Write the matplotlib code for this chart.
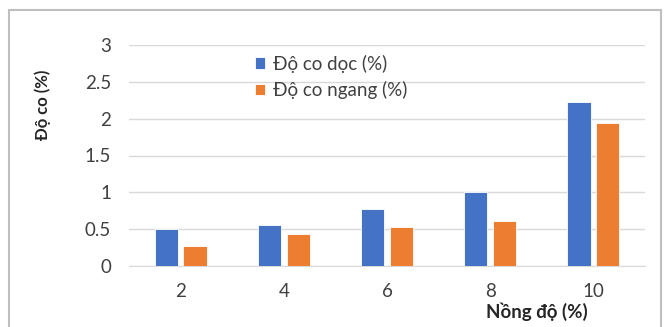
import matplotlib
matplotlib.use("Agg")
import matplotlib.pyplot as plt
import numpy as np
from matplotlib.patches import Rectangle

plt.rcParams['font.family'] = ['Lato', 'DejaVu Sans']

# shrinkage data by concentration
nong_do = ['2', '4', '6', '8', '10']
co_doc = [0.50, 0.56, 0.77, 1.00, 2.22]
co_ngang = [0.27, 0.44, 0.53, 0.61, 1.94]
y_ticks = [0, 0.5, 1, 1.5, 2, 2.5, 3]
y_tick_labels = ['0', '0.5', '1', '1.5', '2', '2.5', '3']

W, H = 664, 327
fig = plt.figure(figsize=(W / 100, H / 100), dpi=100)
ax = fig.add_axes([129 / W, 1 - 266 / H, 516 / W, 221 / H])

x = np.arange(len(nong_do))
bw = 0.225
ax.bar(x - 0.14, co_doc, bw, color='#4472C4', edgecolor='white', linewidth=0.6,
       label='Độ co dọc (%)', zorder=3)
ax.bar(x + 0.14, co_ngang, bw, color='#ED7D31', edgecolor='white', linewidth=0.6,
       label='Độ co ngang (%)', zorder=3)

ax.set_xlim(-0.5, len(nong_do) - 0.5)
ax.set_ylim(0, 3)
ax.set_xticks(x)
ax.set_xticklabels(nong_do)
ax.set_yticks(y_ticks)
ax.set_yticklabels(y_tick_labels)
ax.tick_params(length=0, labelsize=13.5, colors='#404040')
ax.tick_params(axis='y', pad=13)
ax.tick_params(axis='x', pad=12)
ax.grid(axis='y', color='#d9d9d9', linewidth=1, zorder=0)
for s in ['top', 'right', 'left']:
    ax.spines[s].set_visible(False)
ax.spines['bottom'].set_color('#d9d9d9')
ax.spines['bottom'].set_zorder(1)

fig.text(43 / W, 1 - 105 / H, 'Độ co (%)', rotation=90, ha='center', va='center',
         fontsize=12, fontweight='bold', color='#262626')
fig.text(537 / W, 1 - 312 / H, 'Nồng độ (%)', ha='center', va='center',
         fontsize=13.5, fontweight='bold', color='#262626')

leg = ax.legend(loc='upper left', bbox_to_anchor=(247 / W, 1 - 47 / H),
                bbox_transform=fig.transFigure, frameon=False, fontsize=13.5,
                handlelength=0.55, handleheight=0.55, handletextpad=0.45,
                labelspacing=0.45, borderaxespad=0)
for t in leg.get_texts():
    t.set_color('#404040')

# chart border
fig.patches.append(Rectangle((8.5 / W, -0.05), 652.5 / W, 1.05 - 10 / H,
                             transform=fig.transFigure, fill=False,
                             edgecolor='#bfbfbf', linewidth=1.5))

fig.savefig('out.png', dpi=100)
